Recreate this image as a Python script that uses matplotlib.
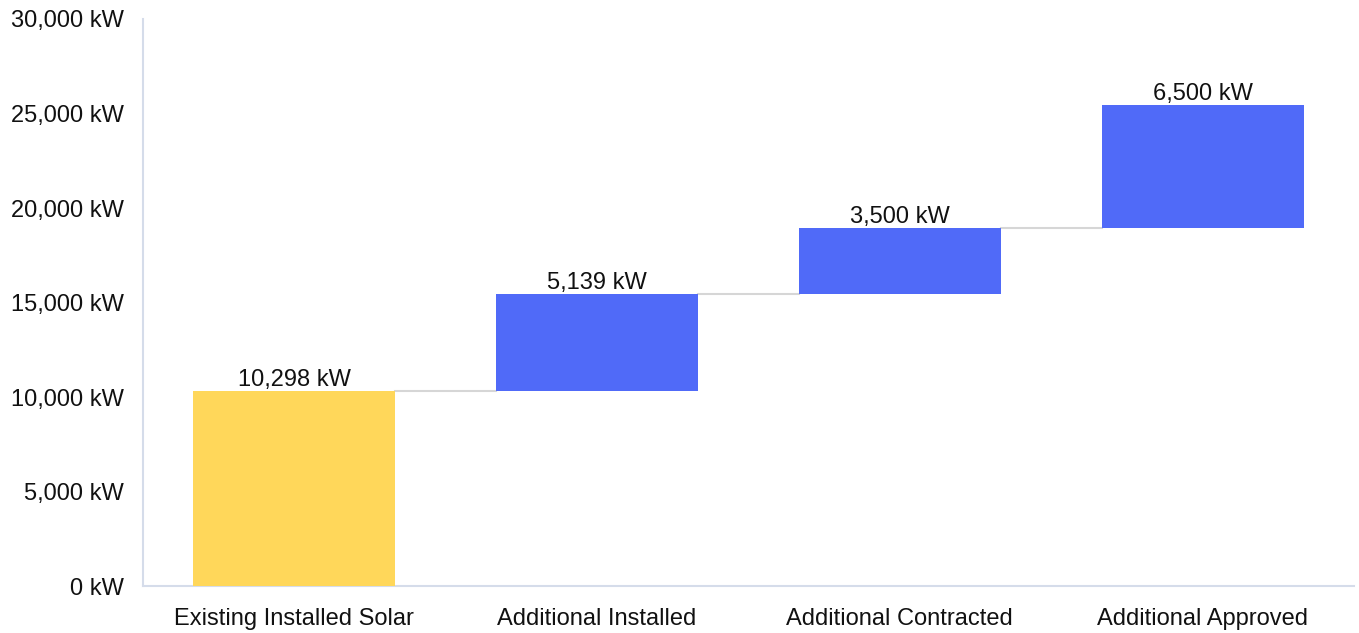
import matplotlib
matplotlib.use("Agg")
import matplotlib.pyplot as plt
from matplotlib.ticker import FuncFormatter

categories = ["Existing Installed Solar", "Additional Installed", "Additional Contracted", "Additional Approved"]
values = [10298, 5139, 3500, 6500]
colors = ["#FFD75A", "#506AF8", "#506AF8", "#506AF8"]
yticks = [0, 5000, 10000, 15000, 20000, 25000, 30000]

plt.rcParams['font.family'] = ['Liberation Sans', 'DejaVu Sans']

fig = plt.figure(figsize=(13.59, 6.33), dpi=100)
ax = fig.add_axes([0.1052, 0.0742, 0.8911, 0.8958])

bottoms = []
cum = 0
for v in values:
    bottoms.append(cum)
    cum += v

x = list(range(len(categories)))
width = 0.667
ax.bar(x, values, bottom=bottoms, width=width, color=colors, zorder=3)

for i, (v, b) in enumerate(zip(values, bottoms)):
    ax.text(i, b + v + 20, f"{v:,} kW", ha="center", va="bottom", fontsize=17, color="#111111")

for i in range(len(values) - 1):
    level = bottoms[i] + values[i]
    ax.plot([i + width / 2, i + 1 - width / 2], [level, level], color="#d6d6d6", lw=1.5, zorder=2)

ax.set_xlim(-0.5, len(categories) - 0.5)
ax.set_ylim(0, 30000)
ax.set_yticks(yticks)
ax.yaxis.set_major_formatter(FuncFormatter(lambda v, p: f"{int(v):,} kW"))
ax.set_xticks(x)
ax.set_xticklabels(categories)
ax.tick_params(axis="both", length=0, labelsize=17, colors="#111111")
ax.tick_params(axis="y", pad=14)
ax.tick_params(axis="x", pad=16)

for s in ["top", "right"]:
    ax.spines[s].set_visible(False)
for s in ["left", "bottom"]:
    ax.spines[s].set_color("#d5dcea")
    ax.spines[s].set_linewidth(1.5)

fig.savefig("out.png", dpi=100)
